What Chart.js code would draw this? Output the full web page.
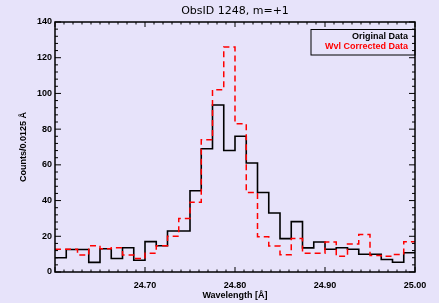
<!DOCTYPE html>
<html>
<head>
<meta charset="utf-8">
<script src="https://cdn.jsdelivr.net/npm/chart.js@4/dist/chart.umd.min.js"></script>
<style>
html, body { margin: 0; padding: 0; background: #e7e3fa; }
canvas { display: block; }
</style>
</head>
<body>
<canvas id="chart" width="439" height="303"></canvas>
<script>
// histogram bins, 0.0125 A wide, starting at 24.60 A
const binStart = 24.6;
const binWidth = 0.0125;
const originalCounts = [8, 12.6, 12.6, 5.4, 13, 7.6, 13.6, 6.6, 17, 14.7, 23, 23,
    45.5, 69, 93.5, 68, 76, 61, 44.5, 33, 18.7, 28.2, 13.5, 16.8,
    12.7, 13.6, 12.7, 9.9, 9.9, 7, 5.5, 10.8];
const correctedCounts = [12.7, 12.7, 9.5, 14.7, 13, 13.6, 9.5, 7.5, 10.5, 14.7, 20, 30,
    39, 74, 102, 126, 83, 44.5, 19.8, 14.6, 9.7, 18.8, 10.5, 10.5,
    16.8, 8.8, 15.7, 21, 9.2, 8.8, 9.8, 17];
const xTickValues = [24.7, 24.8, 24.9, 25.0];
const yTickValues = [0, 20, 40, 60, 80, 100, 120, 140];

function toSteps(counts) {
    const pts = counts.map((c, i) => ({x: binStart + i * binWidth, y: c}));
    pts.push({x: binStart + counts.length * binWidth, y: counts[counts.length - 1]});
    return pts;
}

const axisFont = {family: 'Liberation Sans', size: 9, weight: 'bold'};

const frame = {
    id: 'frame',
    beforeDraw(chart) {
        const ctx = chart.ctx;
        ctx.save();
        ctx.fillStyle = '#e7e3fa';
        ctx.fillRect(0, 0, chart.width, chart.height);
        ctx.restore();
    },
    afterDatasetsDraw(chart) {
        const {ctx, chartArea: a, scales: {x, y}} = chart;
        ctx.save();
        ctx.strokeStyle = '#000';
        ctx.lineWidth = 1.5;
        ctx.strokeRect(a.left, a.top, a.right - a.left, a.bottom - a.top);
        ctx.lineWidth = 1;
        ctx.beginPath();
        for (let i = 0; i <= 40; i++) {
            const px = x.getPixelForValue(24.6 + i * 0.01);
            const len = i % 10 === 0 ? 5 : 2.5;
            ctx.moveTo(px, a.bottom); ctx.lineTo(px, a.bottom - len);
            ctx.moveTo(px, a.top); ctx.lineTo(px, a.top + len);
        }
        for (let i = 0; i <= 35; i++) {
            const py = y.getPixelForValue(i * 4);
            const len = i % 5 === 0 ? 6 : 3;
            ctx.moveTo(a.left, py); ctx.lineTo(a.left + len, py);
            ctx.moveTo(a.right, py); ctx.lineTo(a.right - len, py);
        }
        ctx.stroke();

        // legend
        ctx.lineWidth = 1;
        ctx.strokeRect(a.right - 104, a.top + 7.5, 104, 25.5);
        ctx.font = 'bold 9px "Liberation Sans"';
        ctx.textAlign = 'right';
        ctx.textBaseline = 'middle';
        ctx.fillStyle = '#000';
        ctx.fillText('Original Data', a.right - 7, a.top + 14.5);
        ctx.fillStyle = '#ff0000';
        ctx.fillText('Wvl Corrected Data', a.right - 7, a.top + 25);

        // title
        ctx.fillStyle = '#000';
        ctx.textAlign = 'center';
        ctx.font = '11px "DejaVu Sans"';
        ctx.fillText('ObsID 1248, m=+1', (a.left + a.right) / 2, 11);
        ctx.restore();
    }
};

new Chart(document.getElementById('chart'), {
    type: 'line',
    data: {
        datasets: [
            {
                data: toSteps(correctedCounts),
                borderColor: '#ff0000',
                borderWidth: 1.5,
                borderDash: [6, 4],
                stepped: 'before',
                pointRadius: 0,
                fill: false
            },
            {
                data: toSteps(originalCounts),
                borderColor: '#000000',
                borderWidth: 1.6,
                stepped: 'before',
                pointRadius: 0,
                fill: false
            }
        ]
    },
    plugins: [frame],
    options: {
        responsive: false,
        animation: false,
        devicePixelRatio: 1,
        layout: {padding: {left: 0, top: 22, right: 24, bottom: 0}},
        plugins: {
            legend: {display: false},
            tooltip: {enabled: false}
        },
        scales: {
            x: {
                type: 'linear',
                min: 24.6,
                max: 25.0,
                afterBuildTicks: (scale) => { scale.ticks = xTickValues.map(v => ({value: v})); },
                afterFit: (scale) => { scale.height = 31; },
                grid: {display: false, drawTicks: false},
                border: {display: false},
                ticks: {
                    color: '#000',
                    font: axisFont,
                    padding: 8,
                    maxRotation: 0,
                    autoSkip: false,
                    callback: (v) => Number(v).toFixed(2)
                },
                title: {
                    display: true,
                    text: 'Wavelength [Å]',
                    color: '#000',
                    font: axisFont,
                    padding: {top: 0, bottom: 2}
                }
            },
            y: {
                min: 0,
                max: 140,
                afterBuildTicks: (scale) => { scale.ticks = yTickValues.map(v => ({value: v})); },
                afterFit: (scale) => { scale.width = 55; },
                grid: {display: false, drawTicks: false},
                border: {display: false},
                ticks: {
                    color: '#000',
                    font: axisFont,
                    padding: 3,
                    autoSkip: false
                },
                title: {
                    display: true,
                    text: 'Counts/0.0125 Å',
                    color: '#000',
                    font: axisFont,
                    padding: {top: 18.5, bottom: 0}
                }
            }
        }
    }
});
</script>
</body>
</html>
